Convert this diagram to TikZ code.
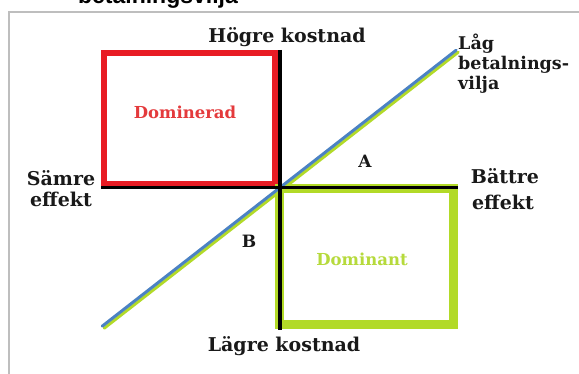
\documentclass[tikz,border=0pt]{standalone}
\usepackage{fontspec}
\setmainfont{DejaVu Serif}
\newfontfamily\labsans{Liberation Sans}
\definecolor{rred}{RGB}{232,28,36}
\definecolor{lgreen}{RGB}{178,218,40}
\definecolor{lblue}{RGB}{75,130,195}
\definecolor{tred}{RGB}{228,58,60}
\definecolor{tgreen}{RGB}{182,218,60}
\definecolor{framegray}{RGB}{190,190,190}
\begin{document}
\begin{tikzpicture}[x=1pt,y=-1pt,
  lab/.style={font=\fontsize{19}{21}\selectfont\bfseries, inner sep=0pt, anchor=base, text=black!90},
  labw/.style={lab, anchor=base west, font=\fontsize{17.5}{20}\selectfont\bfseries},
  boxlab/.style={font=\fontsize{16.5}{18}\selectfont\bfseries, inner sep=0pt, anchor=base},
  letter/.style={font=\fontsize{17}{19}\selectfont\bfseries, inner sep=0pt, anchor=base, text=black!90}]
\useasboundingbox (0,0) rectangle (579,374);
\fill[white] (0,0) rectangle (579,374);
% frame
\draw[framegray, line width=2] (8.5,380) -- (8.5,12) -- (590,12);
\node[font=\labsans\bfseries\fontsize{23}{25}\selectfont, inner sep=0pt, anchor=base] (top) at (158,4) {betalningsvilja};
% boxes
\draw[rred, line width=6] (104,53) rectangle (275,184);
\draw[lgreen, line width=9] (279.5,188.5) rectangle (453.5,324.5);
% diagonal
\coordinate (d1) at (103,327);
\coordinate (d2) at (457,51);
\draw[lgreen, line width=3, line cap=round] ([shift={(1.2,1.2)}]d1) -- ([shift={(1.2,1.2)}]d2);
\draw[lblue, line width=3, line cap=round] ([shift={(-0.8,-0.8)}]d1) -- ([shift={(-0.8,-0.8)}]d2);
% axes
\draw[black, line width=3.5] (280,50) -- (280,330);
\draw[black, line width=3.5] (101,187.5) -- (458,187.5);
% labels
\node[lab] (hk) at (287,43) {Högre kostnad};
\node[lab] (lk) at (284,352) {Lägre kostnad};
\node[lab] (s1) at (61,186) {Sämre};
\node[lab] (s2) at (61,207) {effekt};
\node[lab] (b1) at (505,184) {Bättre};
\node[lab] (b2) at (503,210) {effekt};
\node[labw] (l1) at (458,50) {Låg};
\node[labw] (l2) at (458,70) {betalnings-};
\node[labw] (l3) at (458,90) {vilja};
\node[boxlab, text=tred] (dom1) at (185,119) {Dominerad};
\node[boxlab, text=tgreen] (dom2) at (362,266) {Dominant};
\node[letter] (A) at (365,168) {A};
\node[letter] (B) at (249,248) {B};
\end{tikzpicture}
\end{document}
